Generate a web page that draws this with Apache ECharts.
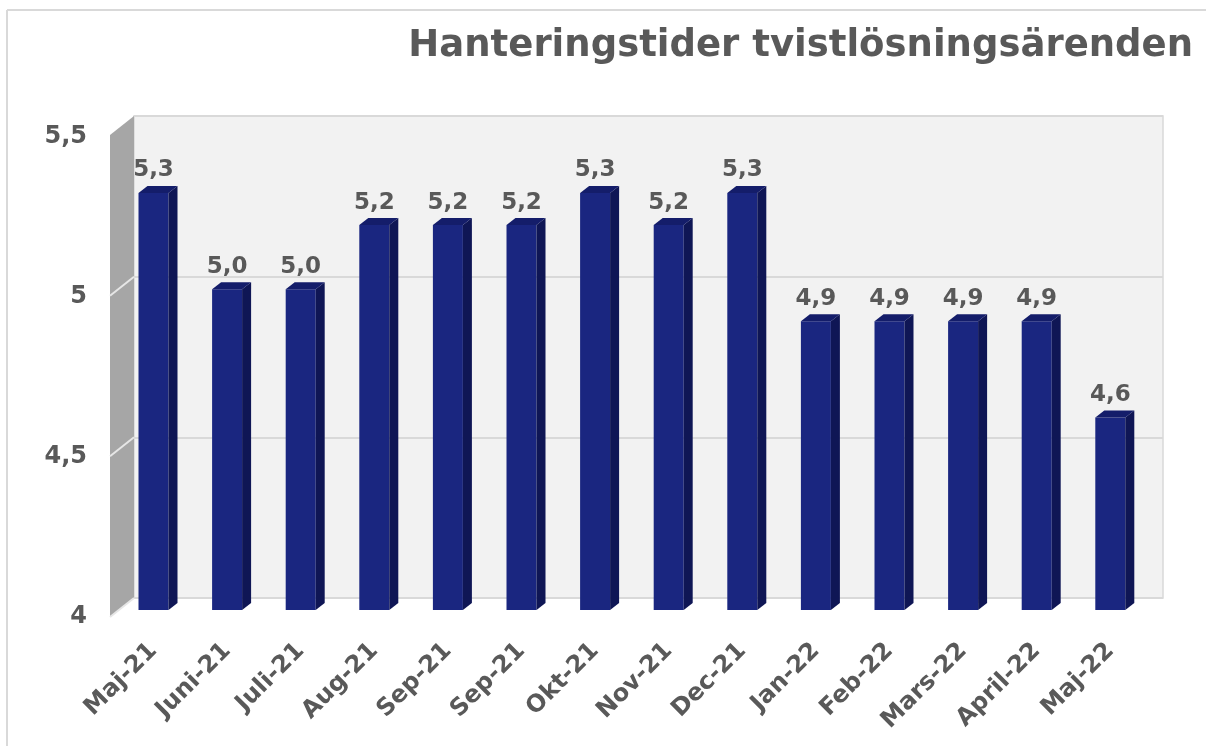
<!DOCTYPE html>
<html>
<head>
<meta charset="utf-8">
<script src="https://cdn.jsdelivr.net/npm/echarts@6/dist/echarts.min.js"></script>
<style>
html,body{margin:0;padding:0;background:#fff;}
#chart{width:1206px;height:746px;}
</style>
</head>
<body>
<div id="chart"></div>
<script>
const chartTitle = 'Hanteringstider tvistlösningsärenden';
const categories = ['Maj-21','Juni-21','Juli-21','Aug-21','Sep-21','Sep-21','Okt-21','Nov-21','Dec-21','Jan-22','Feb-22','Mars-22','April-22','Maj-22'];
const values = [5.3, 5.0, 5.0, 5.2, 5.2, 5.2, 5.3, 5.2, 5.3, 4.9, 4.9, 4.9, 4.9, 4.6];
const yMin = 4;
const yMax = 5.5;
const yStep = 0.5;
const sideTicks = [4.5, 5];

const TEXT = '#595959';
const FONT = 'DejaVu Sans';
const fmt = v => v.toFixed(1).replace('.', ',');
const fmtAxis = v => String(v).replace('.', ',');

const chart = echarts.init(document.getElementById('chart'), null, {renderer: 'canvas'});

const option = {
  backgroundColor: '#ffffff',
  animation: false,
  title: {
    text: chartTitle,
    right: 8,
    top: 23,
    textStyle: {fontFamily: FONT, fontWeight: 'bold', fontSize: 37, color: TEXT}
  },
  graphic: [
    {type: 'line', shape: {x1: 7, y1: 10, x2: 1206, y2: 10}, style: {stroke: '#d9d9d9', lineWidth: 2}},
    {type: 'line', shape: {x1: 7, y1: 10, x2: 7, y2: 746}, style: {stroke: '#d9d9d9', lineWidth: 2}}
  ],
  grid: [
    {left: 134, top: 116, width: 1029, height: 482, show: true, backgroundColor: '#f2f2f2', borderColor: '#d9d9d9', borderWidth: 1.5},
    {left: 116.7, top: 128.8, width: 1030.4, height: 481.2},
    {left: 110, top: 137, width: 1, height: 480}
  ],
  xAxis: [
    {gridIndex: 0, type: 'category', data: categories, show: false},
    {gridIndex: 1, type: 'category', data: categories,
     axisLine: {show: false}, axisTick: {show: false},
     axisLabel: {interval: 0, rotate: 45, margin: 37, fontFamily: FONT, fontWeight: 'bold', fontSize: 24, color: TEXT}},
    {gridIndex: 2, type: 'value', show: false}
  ],
  yAxis: [
    {gridIndex: 0, type: 'value', min: yMin, max: yMax, interval: yStep,
     axisLine: {show: false}, axisTick: {show: false}, axisLabel: {show: false},
     splitLine: {show: true, lineStyle: {color: '#d9d9d9', width: 2}}},
    {gridIndex: 1, type: 'value', min: yMin, max: yMax, interval: yStep, show: false, splitLine: {show: false}},
    {gridIndex: 2, type: 'value', min: yMin, max: yMax, interval: yStep,
     axisLine: {show: false}, axisTick: {show: false}, splitLine: {show: false},
     axisLabel: {margin: 23, formatter: fmtAxis, fontFamily: FONT, fontWeight: 'bold', fontSize: 24, color: TEXT}}
  ],
  series: [
    {
      type: 'custom',
      xAxisIndex: 0, yAxisIndex: 0,
      z: 1,
      silent: true,
      data: [[0, yMin]],
      renderItem: function (params, api) {
        const cs = params.coordSys;
        const dx = -24, dy = 19;
        const children = [{
          type: 'polygon',
          shape: {points: [[cs.x, cs.y], [cs.x + dx, cs.y + dy], [cs.x + dx, cs.y + cs.height + dy], [cs.x, cs.y + cs.height]]},
          style: {fill: '#a6a6a6'}
        }];
        sideTicks.forEach(t => {
          const y = api.coord([0, t])[1];
          children.push({type: 'line', shape: {x1: cs.x, y1: y, x2: cs.x + dx, y2: y + dy}, style: {stroke: '#e6e6e6', lineWidth: 2}});
        });
        const yb = api.coord([0, yMin])[1];
        children.push({type: 'line', shape: {x1: cs.x, y1: yb, x2: cs.x + dx, y2: yb + dy}, style: {stroke: '#e6e6e6', lineWidth: 2}});
        return {type: 'group', children: children};
      }
    },
    {
      type: 'custom',
      xAxisIndex: 1, yAxisIndex: 1,
      z: 3,
      data: values.map((v, i) => [i, v]),
      renderItem: function (params, api) {
        const i = api.value(0), v = api.value(1);
        const top = api.coord([i, v]);
        const bot = api.coord([i, yMin]);
        const w = 30, dx = 9, dy = 7;
        const x0 = top[0] - w / 2, x1 = top[0] + w / 2;
        return {
          type: 'group',
          children: [
            {type: 'rect', shape: {x: x0, y: top[1], width: w, height: bot[1] - top[1]}, style: {fill: '#1a2680'}},
            {type: 'polygon', shape: {points: [[x1, top[1]], [x1 + dx, top[1] - dy], [x1 + dx, bot[1] - dy], [x1, bot[1]]]}, style: {fill: '#0f1655'}},
            {type: 'polygon', shape: {points: [[x0, top[1]], [x0 + dx, top[1] - dy], [x1 + dx, top[1] - dy], [x1, top[1]]]}, style: {fill: '#141d6a'}},
            {type: 'text', style: {text: fmt(v), x: top[0], y: top[1] - 11, textAlign: 'center', textVerticalAlign: 'bottom',
              font: 'bold 23px "DejaVu Sans"', fill: TEXT}}
          ]
        };
      }
    }
  ]
};
chart.setOption(option);
</script>
</body>
</html>
